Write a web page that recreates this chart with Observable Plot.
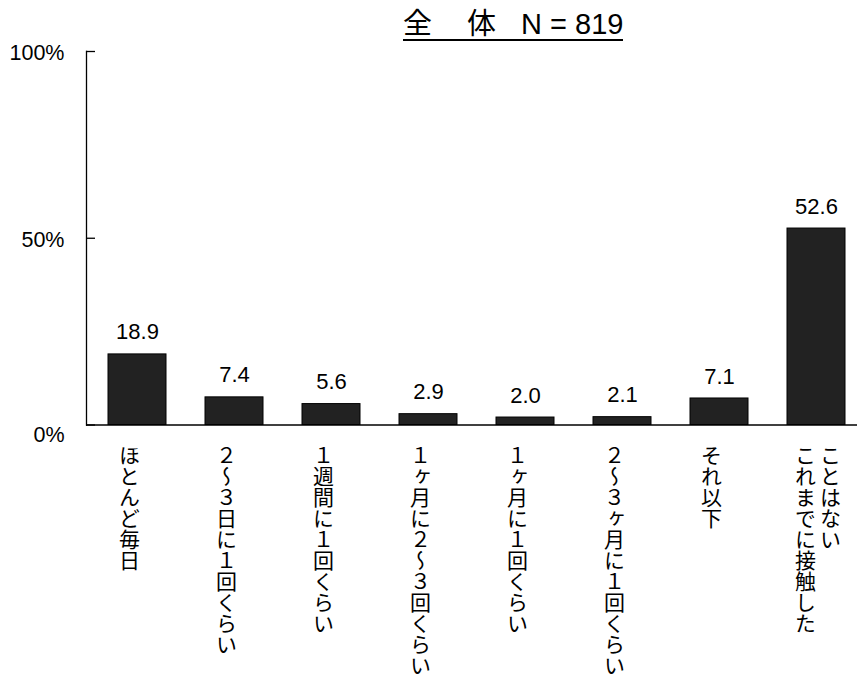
<!DOCTYPE html>
<html>
<head>
<meta charset="utf-8">
<script src="https://cdn.jsdelivr.net/npm/d3@7"></script>
<script src="https://cdn.jsdelivr.net/npm/@observablehq/plot@0.6"></script>
<style>
  html, body { margin: 0; padding: 0; background: #fff; overflow: hidden; }
  #wrap { position: relative; width: 857px; height: 677px; overflow: hidden; }
  #title {
    position: absolute; left: 403px; top: 9px;
    font-family: "Liberation Sans", Arial, "Noto Sans CJK JP", sans-serif;
    font-size: 29px; line-height: 30px; color: #000;
    border-bottom: 2px solid #000; padding-bottom: 0px;
    white-space: pre;
  }
  #title span { display: inline-block; }
</style>
</head>
<body>
<div id="wrap">
  <div id="chart"></div>
  <div id="title"><span>全</span><span style="margin-left:35px">体</span><span style="margin-left:25px">N = 819</span></div>
</div>
<script>
// ---- data ----
const categories = [
  "ほとんど毎日",
  "２～３日に１回くらい",
  "１週間に１回くらい",
  "１ヶ月に２～３回くらい",
  "１ヶ月に１回くらい",
  "２～３ヶ月に１回くらい",
  "それ以下",
  "これまでに接触した\nことはない"
];
const values = [18.9, 7.4, 5.6, 2.9, 2.0, 2.1, 7.1, 52.6];
const yTicks = [0, 50, 100];

const data = categories.map((c, i) => ({ category: c, value: values[i], label: values[i].toFixed(1) }));
const singleLine = categories.filter(c => !c.includes("\n")).map(c => ({ category: c, text: c }));
const firstCols = categories.filter(c => c.includes("\n")).map(c => ({ category: c, text: c.split("\n")[0] }));
const secondCols = categories.filter(c => c.includes("\n")).map(c => ({ category: c, text: c.split("\n")[1] }));

const latin = "'Liberation Sans', Arial, 'Noto Sans CJK JP', sans-serif";
const cjk = "'Noto Sans CJK JP', sans-serif";

const chart = Plot.plot({
  width: 857,
  height: 677,
  marginLeft: 86,
  marginRight: 0,
  marginTop: 51,
  marginBottom: 252.5,
  style: { fontFamily: latin, background: "#fff", overflow: "hidden" },
  x: { domain: categories, range: [86, 868], paddingInner: 0.4, paddingOuter: 0.2, axis: null },
  y: { domain: [0, 100], axis: null },
  marks: [
    Plot.barY(data, { x: "category", y: "value", fill: "#222", stroke: "#000", strokeWidth: 1 }),
    Plot.ruleY([0], { stroke: "#000", strokeWidth: 1.5 }),
    Plot.frame({ anchor: "left", stroke: "#000", strokeWidth: 1.3 }),
    // inward tick marks
    Plot.axisY(yTicks, { tickSize: 9, dx: 9, tickFormat: () => "", stroke: "#000", strokeWidth: 1.3, label: null }),
    // tick labels
    Plot.axisY([50, 100], { tickSize: 0, tickPadding: 22, dy: 2, tickFormat: d => d + "%", fontSize: 21.5, fill: "#000", label: null }),
    Plot.axisY([0], { tickSize: 0, tickPadding: 22, dy: 10, tickFormat: d => d + "%", fontSize: 21.5, fill: "#000", label: null }),
    // value labels
    Plot.text(data, { x: "category", y: "value", text: "label", dy: -22, fontSize: 22, fill: "#000" }),
    // category labels (vertical)
    Plot.text(singleLine, { x: "category", text: "text", frameAnchor: "bottom", textAnchor: "start", lineAnchor: "top", dy: 20, dx: -8, fontSize: 21, fontFamily: cjk, fill: "#000", ariaDescription: "vlabel" }),
    Plot.text(firstCols, { x: "category", text: "text", frameAnchor: "bottom", textAnchor: "start", lineAnchor: "top", dy: 20, dx: -11, fontSize: 21, fontFamily: cjk, fill: "#000", ariaDescription: "vlabel" }),
    Plot.text(secondCols, { x: "category", text: "text", frameAnchor: "bottom", textAnchor: "start", lineAnchor: "top", dy: 20, dx: 14, fontSize: 21, fontFamily: cjk, fill: "#000", ariaDescription: "vlabel" })
  ]
});

d3.select(chart).selectAll('g[aria-description="vlabel"] text')
  .attr("y", null)
  .style("writing-mode", "vertical-rl")
  .style("text-orientation", "upright")
  .style("dominant-baseline", "central");

document.getElementById("chart").appendChild(chart);
</script>
</body>
</html>
